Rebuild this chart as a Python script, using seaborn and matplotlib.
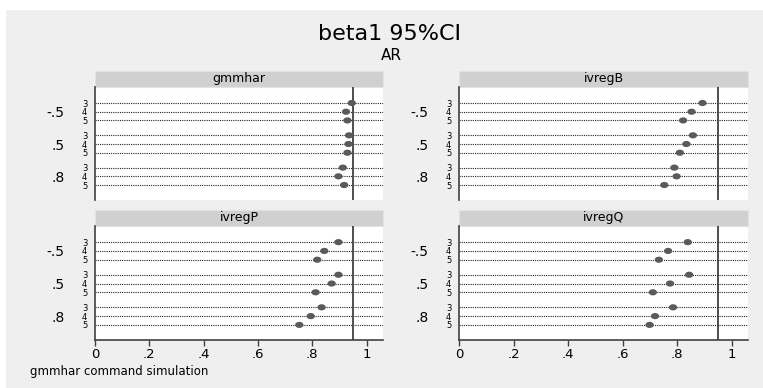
import numpy as np
import pandas as pd
import matplotlib
matplotlib.use("Agg")
import matplotlib.pyplot as plt
from matplotlib.patches import Rectangle
from matplotlib.path import Path
import seaborn as sns

# data (coverage rate of beta1 95% CI)
estimators = ["gmmhar", "ivregB", "ivregP", "ivregQ"]
rho_labels = ["-.5", ".5", ".8"]
lags = ["3", "4", "5"]

gmmhar = [0.945, 0.924, 0.929, 0.935, 0.933, 0.929, 0.912, 0.896, 0.917]
ivregB = [0.893, 0.853, 0.822, 0.858, 0.834, 0.810, 0.790, 0.798, 0.753]
ivregP = [0.896, 0.844, 0.818, 0.896, 0.871, 0.812, 0.834, 0.794, 0.752]
ivregQ = [0.839, 0.767, 0.733, 0.844, 0.774, 0.711, 0.785, 0.719, 0.699]

nominal = 0.95
x_ticks = [0, 0.2, 0.4, 0.6, 0.8, 1.0]
x_tick_labels = ["0", ".2", ".4", ".6", ".8", "1"]

# long table, one row per dot
values = {"gmmhar": gmmhar, "ivregB": ivregB, "ivregP": ivregP, "ivregQ": ivregQ}
group_step = 3.71
rows = []
for est in estimators:
    for g, rho in enumerate(rho_labels):
        for k, lag in enumerate(lags):
            rows.append({"estimator": est, "rho": rho, "lag": lag,
                         "ypos": g * group_step + k,
                         "coverage": values[est][g * 3 + k]})
df = pd.DataFrame(rows)

sns.set_style("white")
plt.rcParams["font.family"] = ["DejaVu Sans"]
for key in ["text.color", "xtick.color", "ytick.color", "axes.labelcolor"]:
    plt.rcParams[key] = "black"

W, H = 763, 388
fig = plt.figure(figsize=(W / 100, H / 100), dpi=100)
fig.patch.set_facecolor("white")
fig.add_artist(Rectangle((6 / W, 0), 1 - 6 / W, 1 - 10 / H,
                         transform=fig.transFigure, facecolor="#efefef",
                         edgecolor="none", zorder=0))

# panel boxes in pixels: (left, top, right, bottom)
boxes = {
    "gmmhar": (95, 87, 383, 200),
    "ivregB": (459, 87, 748, 200),
    "ivregP": (95, 226, 383, 340),
    "ivregQ": (459, 226, 748, 340),
}
header_px = 16

# elliptical marker, as in the stretched original
t = np.linspace(0, 2 * np.pi, 48)
ellipse = Path(np.column_stack([1.35 * np.cos(t), np.sin(t)]))

all_y = sorted(df["ypos"].unique())
centers = [g * group_step + 1 for g in range(len(rho_labels))]

for est in estimators:
    l, tp, r, b = boxes[est]
    ax = fig.add_axes([l / W, 1 - b / H, (r - l) / W, (b - tp) / H])
    ax.set_facecolor("white")
    sub = df[df["estimator"] == est]

    for y in all_y:
        ax.axhline(y, color="#222222", lw=0.8, ls=(0, (1, 1)), zorder=1)
    ax.axvline(nominal, color="#404040", lw=1.3, zorder=2)

    sns.scatterplot(data=sub, x="coverage", y="ypos", ax=ax, marker=ellipse,
                    s=36, color="#5a5a5a", edgecolor="none", zorder=3)

    ax.set_xlim(0, 1.06)
    ax.set_ylim(max(all_y) + 1.72, -1.84)
    ax.set_xlabel("")
    ax.set_ylabel("")

    # lag labels as major ticks, rho labels as minor ticks at group centres
    ax.yaxis.remove_overlapping_locs = False
    ax.set_yticks(all_y)
    ax.set_yticklabels(lags * len(rho_labels), fontsize=6)
    ax.set_yticks(centers, minor=True)
    ax.set_yticklabels(rho_labels, minor=True, fontsize=10)
    ax.tick_params(axis="y", which="major", length=0, pad=5.5)
    ax.tick_params(axis="y", which="minor", length=0, pad=22)

    for side in ["top", "right"]:
        ax.spines[side].set_visible(False)
    ax.spines["left"].set_color("#404040")
    ax.spines["left"].set_linewidth(1.2)

    if tp > 200:
        ax.set_xticks(x_ticks)
        ax.set_xticklabels(x_tick_labels, fontsize=9.5)
        ax.tick_params(axis="x", length=4, width=1, color="#404040", pad=2,
                       bottom=True)
        ax.spines["bottom"].set_color("#404040")
        ax.spines["bottom"].set_linewidth(1.2)
    else:
        ax.set_xticks([])
        ax.spines["bottom"].set_visible(False)

    hf = header_px / (b - tp)
    ax.add_patch(Rectangle((0, 1), 1, hf, transform=ax.transAxes,
                           clip_on=False, facecolor="#d0d0d0",
                           edgecolor="#dde3e8", lw=0.8))
    ax.text(0.5, 1 + hf / 2, est, transform=ax.transAxes, ha="center",
            va="center", fontsize=9)

fig.text(390 / W, 1 - 40 / H, "beta1 95%CI", ha="center", va="baseline",
         fontsize=16)
fig.text(391 / W, 1 - 60 / H, "AR", ha="center", va="baseline", fontsize=11)
fig.text(30 / W, 1 - 372 / H, "gmmhar command simulation", ha="left",
         va="center", fontsize=8.5)

fig.savefig("out.png", dpi=100)
